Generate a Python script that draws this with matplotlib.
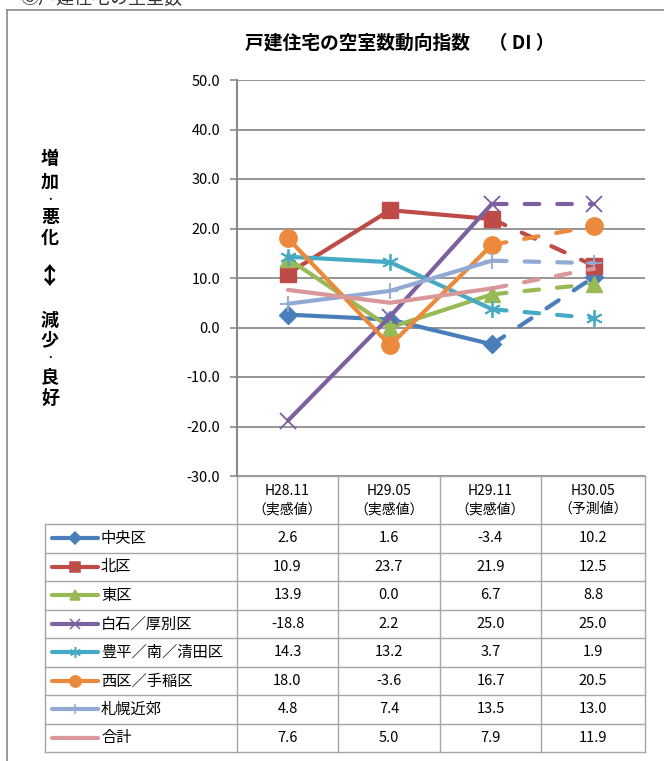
import matplotlib.pyplot as plt
import numpy as np

plt.rcParams['font.family'] = ['Noto Sans CJK JP', 'DejaVu Sans']
plt.rcParams['lines.scale_dashes'] = False

# data
periods = ['H28.11', 'H29.05', 'H29.11', 'H30.05']
kinds = ['（実感値）', '（実感値）', '（実感値）', '（予測値）']
areas = ['中央区', '北区', '東区', '白石／厚別区', '豊平／南／清田区',
         '西区／手稲区', '札幌近郊', '合計']
chuo = [2.6, 1.6, -3.4, 10.2]
kita = [10.9, 23.7, 21.9, 12.5]
higashi = [13.9, 0.0, 6.7, 8.8]
shiroishi = [-18.8, 2.2, 25.0, 25.0]
toyohira = [14.3, 13.2, 3.7, 1.9]
nishi = [18.0, -3.6, 16.7, 20.5]
kinko = [4.8, 7.4, 13.5, 13.0]
total = [7.6, 5.0, 7.9, 11.9]
series = [chuo, kita, higashi, shiroishi, toyohira, nishi, kinko, total]

# styles
colors = ['#4A7EBB', '#BE4B48', '#98B954', '#7D60A0', '#46AAC5',
          '#EB8A3C', '#92A9D4', '#D9979A']
markers = ['D', 's', '^', 'x', (6, 2, 0), 'o', '+', None]
msizes = [9, 12, 11, 11, 12, 12.5, 12, 0]

W, H = 664, 761
fig = plt.figure(figsize=(W / 100, H / 100), dpi=100)

# overlay in pixel coordinates for frame, table and labels
ov = fig.add_axes([0, 0, 1, 1], zorder=0)
ov.set_xlim(0, W)
ov.set_ylim(H, 0)
ov.axis('off')

gray = '#8A8A8A'
ov.plot([7, 7], [10, H], color=gray, lw=1.2, clip_on=False)
ov.plot([7, W], [10, 10], color=gray, lw=1.2, clip_on=False)
ov.text(20, -2, '③戸建住宅の空室数', fontsize=13, va='center', ha='left', color='#333333')

ov.text(400, 43, '戸建住宅の空室数動向指数　（ DI ）', fontsize=13.5, fontweight='bold',
        ha='center', va='center')

# vertical y label
ylab_chars = ['増', '加', '･', '悪', '化', '↕', '減', '少', '･', '良', '好']
ylab_y = [158, 182, 200, 217, 238, 277, 320, 340, 358, 377, 398]
ylab_fs = {'↕': 17, '･': 8}
for ch, yy in zip(ylab_chars, ylab_y):
    ov.text(50, yy, ch, fontsize=ylab_fs.get(ch, 13), fontweight='bold',
            ha='center', va='center')

# plot area
L, R, T, B = 237, 645, 80, 476
ax = fig.add_axes([L / W, 1 - B / H, (R - L) / W, (B - T) / H], zorder=1)
ax.patch.set_alpha(0)
x = np.arange(len(periods))
for i, vals in enumerate(series):
    z = 3 + i
    mew = 1.3 if markers[i] in ('x', '+', (6, 2, 0)) else 1
    ax.plot(x[:3], vals[:3], color=colors[i], lw=3, marker=markers[i],
            ms=msizes[i], mew=mew, solid_capstyle='round', zorder=z)
    ax.plot(x[2:], vals[2:], color=colors[i], lw=3, marker=markers[i],
            markevery=[1], ms=msizes[i], mew=mew, dashes=(10.5, 13),
            dash_capstyle='round', zorder=z)

ax.set_xlim(-0.5, 3.5)
ax.set_ylim(-30, 50)
ax.set_yticks(np.arange(-30, 51, 10))
ax.set_yticklabels([f'{v:.1f}' for v in np.arange(-30, 51, 10)], fontsize=10.5)
ax.set_xticks([])
ax.yaxis.grid(True, color='#8C8C8C', lw=1.3)
ax.set_axisbelow(True)
for s in ['top', 'right', 'bottom']:
    ax.spines[s].set_visible(False)
ax.spines['left'].set_color(gray)
ax.spines['left'].set_linewidth(1.5)
ax.tick_params(axis='y', length=5, width=1.2, color=gray, pad=7)

# data table below the plot
col_x = [45, 237, 338, 440, 541, 645]
head_top, head_bot = 476, 524
row_h = (752 - head_bot) / len(areas)
lc = '#A6A6A6'
ov.plot([col_x[1], col_x[-1]], [head_top, head_top], color=lc, lw=1)
for cx in col_x[1:]:
    ov.plot([cx, cx], [head_top, 752], color=lc, lw=1)
ov.plot([col_x[0], col_x[0]], [head_bot, 752], color=lc, lw=1)
for r in range(len(areas) + 1):
    yy = head_bot + r * row_h
    ov.plot([col_x[0], col_x[-1]], [yy, yy], color=lc, lw=1)

for j, (p, k) in enumerate(zip(periods, kinds)):
    cx = (col_x[j + 1] + col_x[j + 2]) / 2
    ov.text(cx, 491, p, fontsize=10, ha='center', va='center')
    ov.text(cx, 509, k, fontsize=10, ha='center', va='center')

for i, (name, vals) in enumerate(zip(areas, series)):
    cy = head_bot + (i + 0.5) * row_h
    ov.plot([52, 98], [cy, cy], color=colors[i], lw=3, solid_capstyle='round')
    if markers[i] is not None:
        ov.plot([75], [cy], color=colors[i], marker=markers[i],
                ms=msizes[i] * 0.65, mew=1.1)
    ov.text(101, cy, name, fontsize=11, ha='left', va='center')
    for j, v in enumerate(vals):
        cx = (col_x[j + 1] + col_x[j + 2]) / 2
        ov.text(cx, cy, f'{v:.1f}', fontsize=10.5, ha='center', va='center')

fig.savefig('out.png', dpi=100)
